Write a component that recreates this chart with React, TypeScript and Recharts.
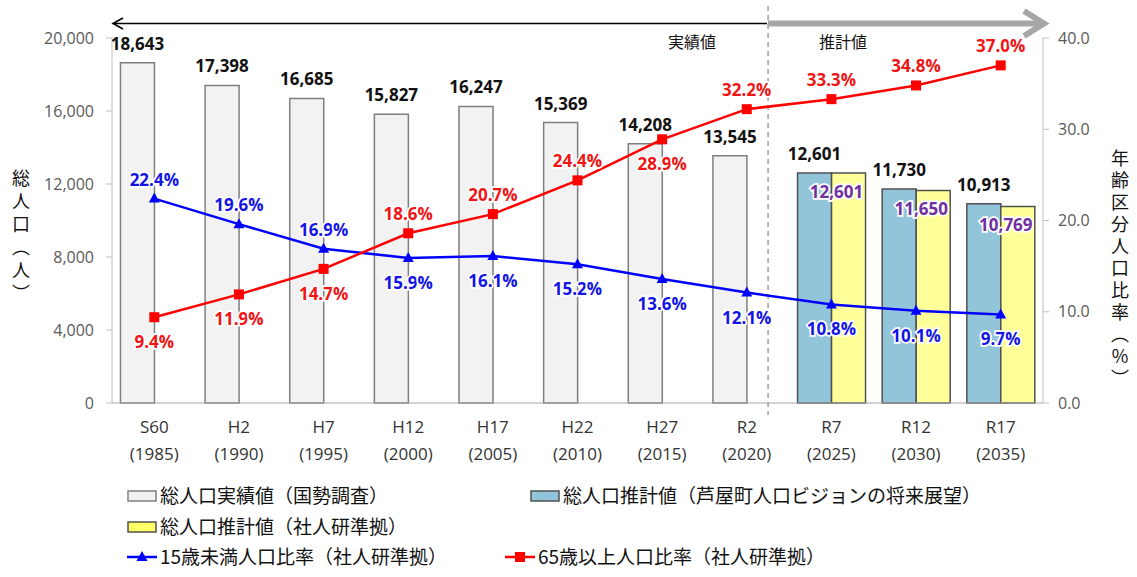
import React from 'react';
import { ComposedChart, Bar, Line, XAxis, YAxis, LabelList, ReferenceLine } from 'recharts';

const eras = ['S60', 'H2', 'H7', 'H12', 'H17', 'H22', 'H27', 'R2', 'R7', 'R12', 'R17'];
const years = ['1985', '1990', '1995', '2000', '2005', '2010', '2015', '2020', '2025', '2030', '2035'];
const actualPop = [18643, 17398, 16685, 15827, 16247, 15369, 14208, 13545, null, null, null];
const visionPop = [null, null, null, null, null, null, null, null, 12601, 11730, 10913];
const ipssPop = [null, null, null, null, null, null, null, null, 12601, 11650, 10769];
const under15Ratio = [22.4, 19.6, 16.9, 15.9, 16.1, 15.2, 13.6, 12.1, 10.8, 10.1, 9.7];
const over65Ratio = [9.4, 11.9, 14.7, 18.6, 20.7, 24.4, 28.9, 32.2, 33.3, 34.8, 37.0];
const under15Side = ['top', 'top', 'top', 'bottom', 'bottom', 'bottom', 'bottom', 'bottom', 'bottom', 'bottom', 'bottom'];
const over65Side = ['bottom', 'bottom', 'bottom', 'top', 'top', 'top', 'bottom', 'top', 'top', 'top', 'top'];
const leftTicks = [0, 4000, 8000, 12000, 16000, 20000];
const rightTicks = [0, 10, 20, 30, 40];

const data = eras.map((e, i) => ({
  era: e,
  year: years[i],
  actual: actualPop[i],
  vision: visionPop[i],
  ipss: ipssPop[i],
  u15: under15Ratio[i],
  o65: over65Ratio[i],
}));

const FONT = '"Noto Sans CJK JP", "Noto Sans", sans-serif';
const NUMFONT = '"Open Sans", "Noto Sans", sans-serif';

const fmt = (v: number) => v.toLocaleString('en-US');

const XTick = (props: any) => {
  const { x, y, payload, index } = props;
  return (
    <g>
      <text x={x} y={y + 22} textAnchor="middle" fill="#333" fontSize={17} fontFamily={NUMFONT}>{payload.value}</text>
      <text x={x} y={y + 49} textAnchor="middle" fill="#333" fontSize={17} fontFamily={NUMFONT}>({years[index]})</text>
    </g>
  );
};

const barTopLabel = (props: any) => {
  const { x, y, width, value } = props;
  if (value == null) return null;
  return (
    <text x={x + width / 2} y={y - 13} textAnchor="middle" fill="#111" fontWeight="bold" fontSize={17} fontFamily={NUMFONT}>{fmt(value)}</text>
  );
};

const ipssLabel = (props: any) => {
  const { x, y, width, value } = props;
  if (value == null) return null;
  return (
    <text x={x + width / 2 - 12} y={y + 25} textAnchor="middle" fill="#7030A0" fontWeight="bold" fontSize={17} fontFamily={NUMFONT} stroke="#fff" strokeWidth={3.5} paintOrder="stroke">{fmt(value)}</text>
  );
};

const lineLabel = (color: string, sides: string[]) => (props: any) => {
  const { x, y, value, index } = props;
  const dy = sides[index] === 'top' ? -13 : 31;
  return (
    <text x={x} y={y + dy} textAnchor="middle" fill={color} fontWeight="bold" fontSize={17} fontFamily={NUMFONT} stroke="#fff" strokeWidth={3.5} paintOrder="stroke">{value.toFixed(1)}%</text>
  );
};

const TriDot = (props: any) => {
  const { cx, cy } = props;
  if (cx == null) return null;
  return <polygon points={`${cx},${cy - 6} ${cx + 5.5},${cy + 4} ${cx - 5.5},${cy + 4}`} fill="#0000FF" />;
};
const SqDot = (props: any) => {
  const { cx, cy } = props;
  if (cx == null) return null;
  return <rect x={cx - 5} y={cy - 5} width={10} height={10} fill="#FF0000" />;
};

const DividerShape = (props: any) => {
  const { x1, x2 } = props;
  const xx = (x1 ?? x2 ?? 0) - 21;
  return <line x1={xx} x2={xx} y1={6} y2={415} stroke="#A0A0A0" strokeWidth={1.5} strokeDasharray="5 4" />;
};

const legendRows = [
  { y: 496, items: [
    { x: 127, kind: 'rect', fill: '#F2F2F2', stroke: '#7F7F7F', label: '総人口実績値（国勢調査）' },
    { x: 530, kind: 'rect', fill: '#92C5DA', stroke: '#505050', label: '総人口推計値（芦屋町人口ビジョンの将来展望）' },
  ] },
  { y: 527, items: [
    { x: 127, kind: 'rect', fill: '#FFFF66', stroke: '#505050', label: '総人口推計値（社人研準拠）' },
  ] },
  { y: 557, items: [
    { x: 127, kind: 'tri', fill: '#0000FF', stroke: '#0000FF', label: '15歳未満人口比率（社人研準拠）' },
    { x: 505, kind: 'sq', fill: '#FF0000', stroke: '#FF0000', label: '65歳以上人口比率（社人研準拠）' },
  ] },
];

export default function App() {
  return (
    <div style={{ position: 'absolute', left: 0, top: 0, width: 1137, height: 577, background: '#fff', overflow: 'hidden' }}>
      <ComposedChart
        width={1137}
        height={577}
        data={data}
        margin={{ top: 38, right: 0, bottom: 114, left: 0 }}
        barGap={0}
        barCategoryGap="10%"
      >
        <XAxis dataKey="era" height={60} axisLine={{ stroke: '#A6A6A6' }} tickLine={false} tick={<XTick />} interval={0} />
        <YAxis
          yAxisId="left"
          width={112}
          domain={[0, 20000]}
          ticks={leftTicks}
          tickFormatter={fmt}
          axisLine={{ stroke: '#BFBFBF' }}
          tickLine={{ stroke: '#BFBFBF' }}
          tickSize={6}
          tickMargin={12}
          tick={{ fill: '#595959', fontSize: 16, fontFamily: NUMFONT }}
        />
        <YAxis
          yAxisId="right"
          orientation="right"
          width={94}
          domain={[0, 40]}
          ticks={rightTicks}
          tickFormatter={(v: number) => v.toFixed(1)}
          axisLine={{ stroke: '#BFBFBF' }}
          tickLine={{ stroke: '#BFBFBF' }}
          tickSize={6}
          tickMargin={9}
          tick={{ fill: '#595959', fontSize: 16, fontFamily: NUMFONT }}
        />
        <ReferenceLine yAxisId="left" x="R2" position="end" ifOverflow="visible" shape={<DividerShape />} />
        <Bar yAxisId="left" dataKey="actual" stackId="a" fill="#F2F2F2" stroke="#7F7F7F" strokeWidth={1.5} isAnimationActive={false}>
          <LabelList dataKey="actual" content={barTopLabel} />
        </Bar>
        <Bar yAxisId="left" dataKey="vision" stackId="a" fill="#92C5DA" stroke="#505050" strokeWidth={1.5} isAnimationActive={false}>
          <LabelList dataKey="vision" content={barTopLabel} />
        </Bar>
        <Bar yAxisId="left" dataKey="ipss" fill="#FFFF99" stroke="#505050" strokeWidth={1.5} isAnimationActive={false}>
          <LabelList dataKey="ipss" content={ipssLabel} />
        </Bar>
        <Line yAxisId="right" dataKey="u15" stroke="#0000FF" strokeWidth={2.5} dot={<TriDot />} activeDot={false} isAnimationActive={false}>
          <LabelList dataKey="u15" content={lineLabel('#1414E6', under15Side)} />
        </Line>
        <Line yAxisId="right" dataKey="o65" stroke="#FF0000" strokeWidth={2.5} dot={<SqDot />} activeDot={false} isAnimationActive={false}>
          <LabelList dataKey="o65" content={lineLabel('#F01414', over65Side)} />
        </Line>
      </ComposedChart>

      <svg width={1137} height={577} style={{ position: 'absolute', left: 0, top: 0, pointerEvents: 'none' }}>
        <line x1={114} x2={767} y1={23.5} y2={23.5} stroke="#000" strokeWidth={1.6} />
        <polyline points="123,18 113,23.5 123,29" fill="none" stroke="#000" strokeWidth={1.6} />
        <line x1={768} x2={1040} y1={23.5} y2={23.5} stroke="#A6A6A6" strokeWidth={6} />
        <polyline points="1024,11 1044,23.5 1024,36" fill="none" stroke="#A6A6A6" strokeWidth={6} />
        <text x={692} y={48} textAnchor="middle" fontSize={16} fill="#111" fontFamily={FONT}>実績値</text>
        <text x={843} y={48} textAnchor="middle" fontSize={16} fill="#111" fontFamily={FONT}>推計値</text>
        <text x={21} y={238} textAnchor="middle" fontSize={18} fill="#111" fontFamily={FONT}
          style={{ writingMode: 'vertical-rl', textOrientation: 'upright', letterSpacing: 5 } as any}>総人口（人）</text>
        <text x={1120} y={270} textAnchor="middle" fontSize={18} fill="#111" fontFamily={FONT}
          style={{ writingMode: 'vertical-rl', textOrientation: 'upright', letterSpacing: 4 } as any}>年齢区分人口比率（%）</text>
        {legendRows.map((row, ri) => (
          <g key={ri}>
            {row.items.map((it, ii) => (
              <g key={ii}>
                {it.kind === 'rect' && (
                  <rect x={it.x + 1} y={row.y - 5} width={28} height={10} fill={it.fill} stroke={it.stroke} strokeWidth={1.5} />
                )}
                {it.kind === 'tri' && (
                  <g>
                    <line x1={it.x} x2={it.x + 30} y1={row.y} y2={row.y} stroke={it.stroke} strokeWidth={2.5} />
                    <polygon points={`${it.x + 15},${row.y - 6} ${it.x + 20.5},${row.y + 4} ${it.x + 9.5},${row.y + 4}`} fill={it.fill} />
                  </g>
                )}
                {it.kind === 'sq' && (
                  <g>
                    <line x1={it.x} x2={it.x + 30} y1={row.y} y2={row.y} stroke={it.stroke} strokeWidth={2.5} />
                    <rect x={it.x + 10} y={row.y - 5} width={10} height={10} fill={it.fill} />
                  </g>
                )}
                <text x={it.x + 33} y={row.y + 7} fontSize={19} fill="#111" fontFamily={FONT}>{it.label}</text>
              </g>
            ))}
          </g>
        ))}
      </svg>
    </div>
  );
}
